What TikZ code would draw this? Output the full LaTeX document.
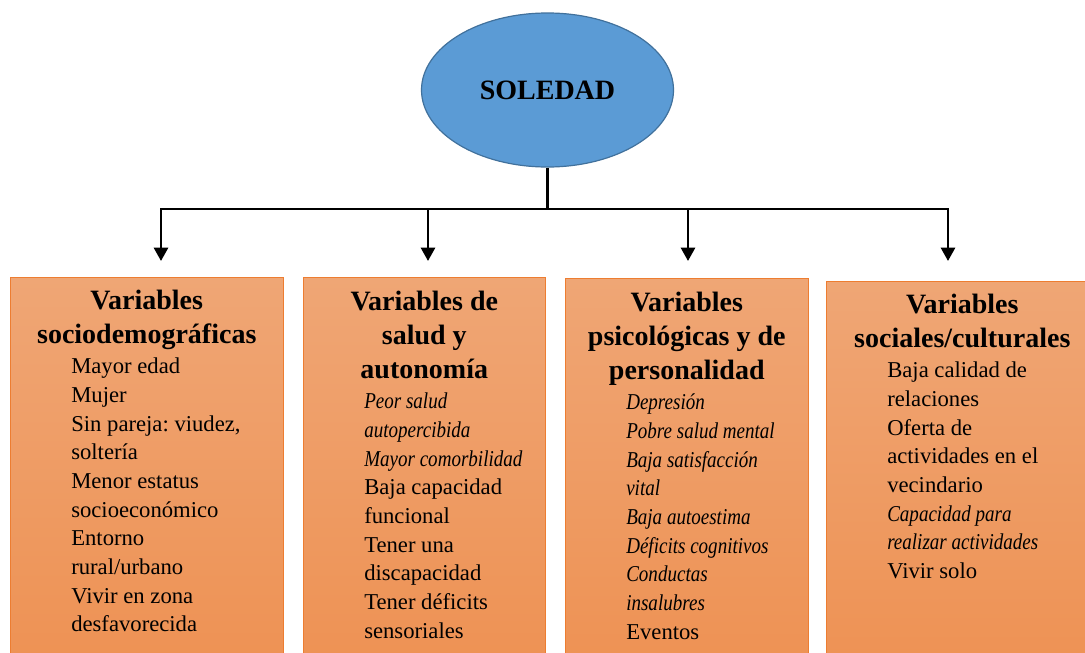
\documentclass[tikz,border=0pt]{standalone}
\usepackage{fontspec}
\setmainfont{Liberation Serif}[ItalicFeatures={FakeStretch=0.84}]
\usetikzlibrary{shapes.geometric,arrows.meta}
\frenchspacing
\definecolor{solfill}{RGB}{91,155,213}
\definecolor{soldraw}{RGB}{65,113,156}
\definecolor{boxdraw}{RGB}{237,125,49}
\definecolor{boxtop}{RGB}{239,166,117}
\definecolor{boxmid}{RGB}{242,174,146}
\definecolor{boxbot}{RGB}{238,146,84}
\newcommand{\vblock}[3]{\parbox[t]{#1}{\parindent=0pt
 {\fontsize{21}{25.5}\selectfont\bfseries\centering #2\par}
 \vspace{1.5pt}
 {\fontsize{17}{21.5}\selectfont\raggedright\leftskip=45.75pt #3\par}}}
\tikzset{
 varbox/.style={draw=boxdraw, line width=0.8pt, top color=boxtop, middle color=boxmid, bottom color=boxbot, anchor=north west, inner sep=0pt, minimum height=288pt},
 vartext/.style={anchor=base west, inner sep=0pt},
 conn/.style={line width=2pt, black},
 arr/.style={conn, -{Triangle[length=10pt,width=10.5pt]}},
 soledad/.style={ellipse, draw=soldraw, fill=solfill, line width=0.9pt, minimum width=189pt, minimum height=115.5pt, inner sep=0pt, font=\fontsize{21}{25}\selectfont\bfseries}
}
\begin{document}
\begin{tikzpicture}[x=0.75pt, y=-0.75pt]
\useasboundingbox (0,0) rectangle (1085,653);
\fill[white] (0,0) rectangle (1085,653);
\clip (0,0) rectangle (1085,653);

\node[soledad] (sol) at (547.5,90) {SOLEDAD};

\node[varbox, minimum width=204.75pt] (b1) at (10,277) {};
\node[varbox, minimum width=181.5pt] (b2) at (303,277) {};
\node[varbox, minimum width=182.25pt] (b3) at (565,278) {};
\node[varbox, minimum width=204pt] (b4) at (826,281) {};

\node[vartext] (t1) at (10,309) {\vblock{204.75pt}{Variables\\ sociodemográficas}{Mayor edad\\ Mujer\\ Sin pareja: viudez,\\ soltería\\ Menor estatus\\ socioeconómico\\ Entorno\\ rural/urbano\\ Vivir en zona\\ desfavorecida}};
\node[vartext] (t2) at (303,310) {\vblock{181.5pt}{Variables de\\ salud y\\ autonomía}{\textit{Peor salud}\\ \textit{autopercibida}\\ \textit{Mayor comorbilidad}\\ Baja capacidad\\ funcional\\ Tener una\\ discapacidad\\ Tener déficits\\ sensoriales}};
\node[vartext] (t3) at (565,311) {\vblock{182.25pt}{Variables\\ psicológicas y de\\ personalidad}{\textit{Depresión}\\ \textit{Pobre salud mental}\\ \textit{Baja satisfacción}\\ \textit{vital}\\ \textit{Baja autoestima}\\ \textit{Déficits cognitivos}\\ \textit{Conductas}\\ \textit{insalubres}\\ Eventos}};
\node[vartext] (t4) at (826,313) {\vblock{204pt}{Variables\\ sociales/culturales}{Baja calidad de\\ relaciones\\ Oferta de\\ actividades en el\\ vecindario\\ \textit{Capacidad para}\\ \textit{realizar actividades}\\ Vivir solo}};

\coordinate (j1) at (161,209);
\coordinate (j2) at (428,209);
\coordinate (j3) at (688,209);
\coordinate (j4) at (948,209);

\draw[conn] (sol.south) -- (sol.south |- j1);
\draw[conn, line cap=rect] (j1) -- (j4);
\draw[arr, shorten >=12pt] (j1) -- (j1 |- b1.north);
\draw[arr, shorten >=12pt] (j2) -- (j2 |- b2.north);
\draw[arr, shorten >=12.75pt] (j3) -- (j3 |- b3.north);
\draw[arr, shorten >=15pt] (j4) -- (j4 |- b4.north);
\end{tikzpicture}
\end{document}
